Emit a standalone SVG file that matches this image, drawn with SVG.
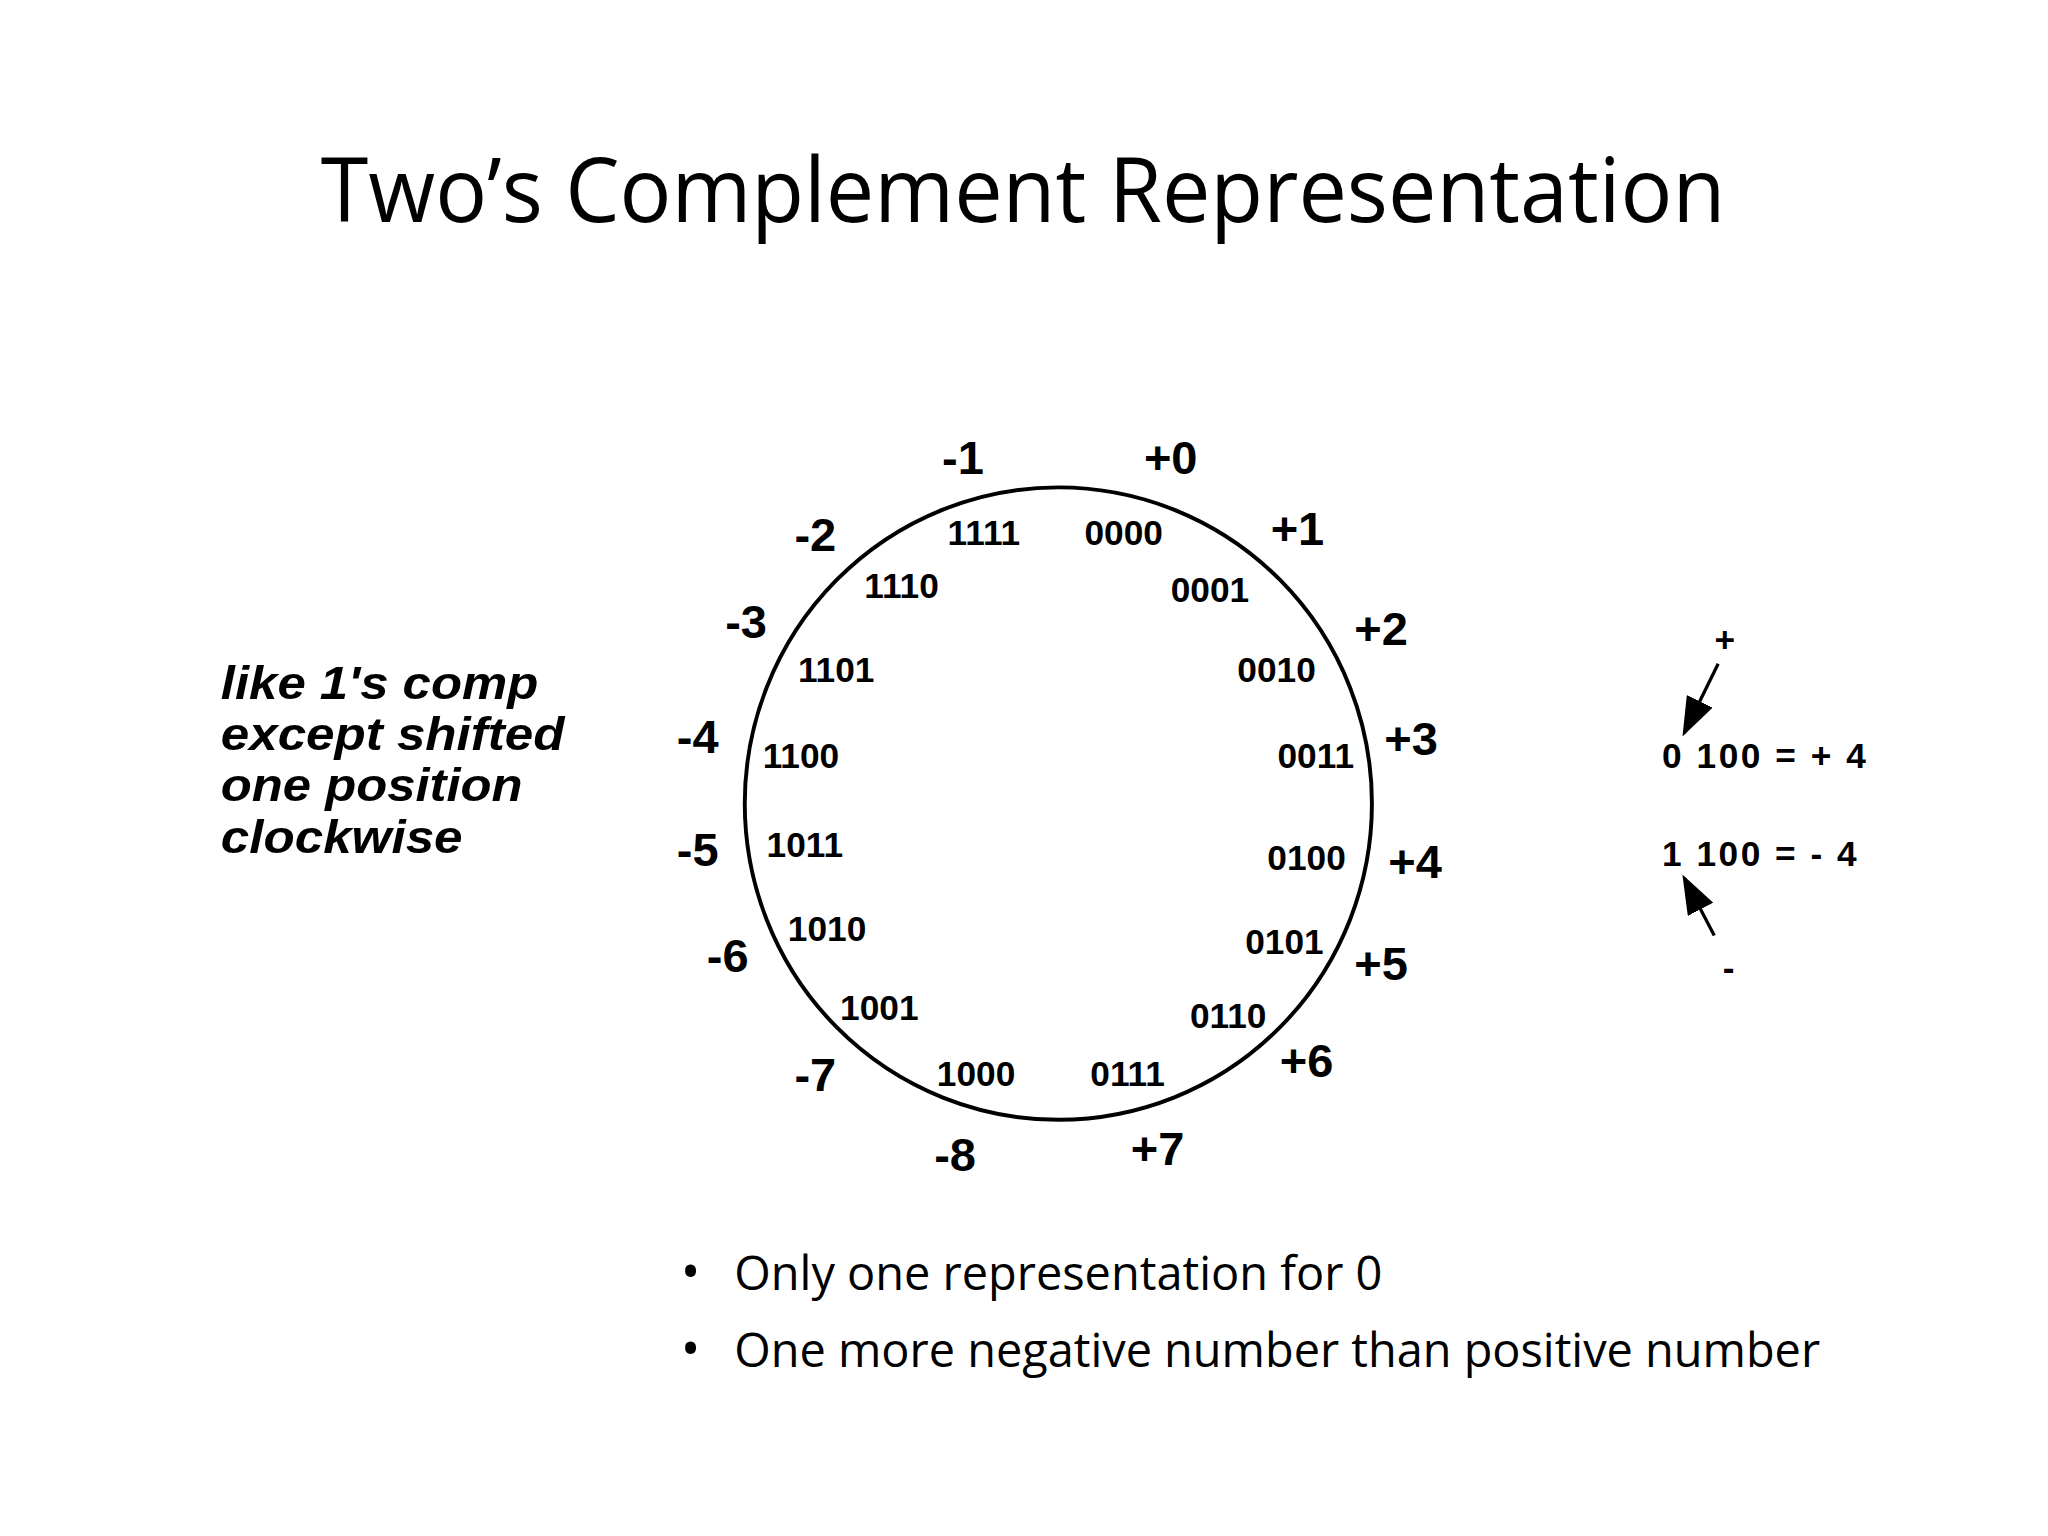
<svg xmlns="http://www.w3.org/2000/svg" width="2048" height="1536" viewBox="0 0 2048 1536">
<style>
.t{font-family:"Open Sans","Liberation Sans",sans-serif;fill:#000}
.n{font-family:"Liberation Sans",Arial,sans-serif;font-weight:bold;font-size:36px;text-anchor:middle}
.b{font-family:"Liberation Sans",Arial,sans-serif;font-weight:bold;font-size:27px;text-anchor:middle}
.i{font-family:"Liberation Sans",Arial,sans-serif;font-weight:bold;font-style:italic;font-size:35px}
.r{font-family:"Liberation Sans",Arial,sans-serif;font-weight:bold;font-size:27px}
</style>
<defs>
<marker id="ah2" viewBox="0 0 10 10" refX="9" refY="5" markerWidth="30" markerHeight="22" orient="auto" markerUnits="userSpaceOnUse" preserveAspectRatio="none"><path d="M0,0L10,5L0,10z" fill="#000"/></marker></defs>
<rect width="2048" height="1536" fill="#fff"/>
<g transform="scale(1.3066)">
<text id="title" class="t" x="783" y="170" font-size="68" text-anchor="middle" textLength="1075" lengthAdjust="spacingAndGlyphs">Two’s Complement Representation</text>
<g id="wheel"><ellipse cx="810" cy="615" rx="240" ry="242" fill="none" stroke="#000" stroke-width="3"/></g>
<g id="dec">
<text class="n" x="737" y="363">-1</text><text class="n" x="896" y="363">+0</text><text class="n" x="993" y="417">+1</text><text class="n" x="1057" y="494">+2</text>
<text class="n" x="1080" y="578">+3</text><text class="n" x="1083" y="672">+4</text><text class="n" x="1057" y="750">+5</text><text class="n" x="1000" y="824">+6</text>
<text class="n" x="886" y="892">+7</text><text class="n" x="731" y="896">-8</text><text class="n" x="624" y="835">-7</text><text class="n" x="557" y="744">-6</text>
<text class="n" x="534" y="663">-5</text><text class="n" x="534" y="576">-4</text><text class="n" x="571" y="488">-3</text><text class="n" x="624" y="422">-2</text>
</g>
<g id="bin">
<text class="b" x="753" y="417">1111</text><text class="b" x="860" y="417">0000</text><text class="b" x="926" y="461">0001</text><text class="b" x="977" y="522">0010</text>
<text class="b" x="1007" y="588">0011</text><text class="b" x="1000" y="666">0100</text><text class="b" x="983" y="730">0101</text><text class="b" x="940" y="787">0110</text>
<text class="b" x="863" y="831">0111</text><text class="b" x="747" y="831">1000</text><text class="b" x="673" y="781">1001</text><text class="b" x="633" y="720">1010</text>
<text class="b" x="616" y="656">1011</text><text class="b" x="613" y="588">1100</text><text class="b" x="640" y="522">1101</text><text class="b" x="690" y="458">1110</text>
</g>
<g id="note">
<text class="i" x="169" y="535" textLength="243" lengthAdjust="spacingAndGlyphs">like 1's comp</text>
<text class="i" x="169" y="574" textLength="263" lengthAdjust="spacingAndGlyphs">except shifted</text>
<text class="i" x="169" y="613" textLength="231" lengthAdjust="spacingAndGlyphs">one position</text>
<text class="i" x="169" y="653" textLength="185" lengthAdjust="spacingAndGlyphs">clockwise</text>
</g>
<g id="example">
<text class="r" x="1320" y="499" text-anchor="middle">+</text>
<text class="r" x="1272" y="588" textLength="156" lengthAdjust="spacing">0 100 = + 4</text>
<text class="r" x="1272" y="663" textLength="149" lengthAdjust="spacing">1 100 = - 4</text>
<text class="r" x="1323" y="750" text-anchor="middle">-</text>
</g>
<g id="connectors" stroke="#000" stroke-width="2.5">
<line x1="1315" y1="508" x2="1289" y2="561" marker-end="url(#ah2)"/>
<line x1="1312" y1="716" x2="1289" y2="672" marker-end="url(#ah2)"/>
</g>
<g id="bullets" class="t" font-size="36">
<text x="521" y="987" font-size="40">•</text><text x="562" y="987" textLength="496" lengthAdjust="spacingAndGlyphs">Only one representation for 0</text>
<text x="521" y="1046" font-size="40">•</text><text x="562" y="1046" textLength="831" lengthAdjust="spacingAndGlyphs">One more negative number than positive number</text>
</g>
</g>
</svg>
